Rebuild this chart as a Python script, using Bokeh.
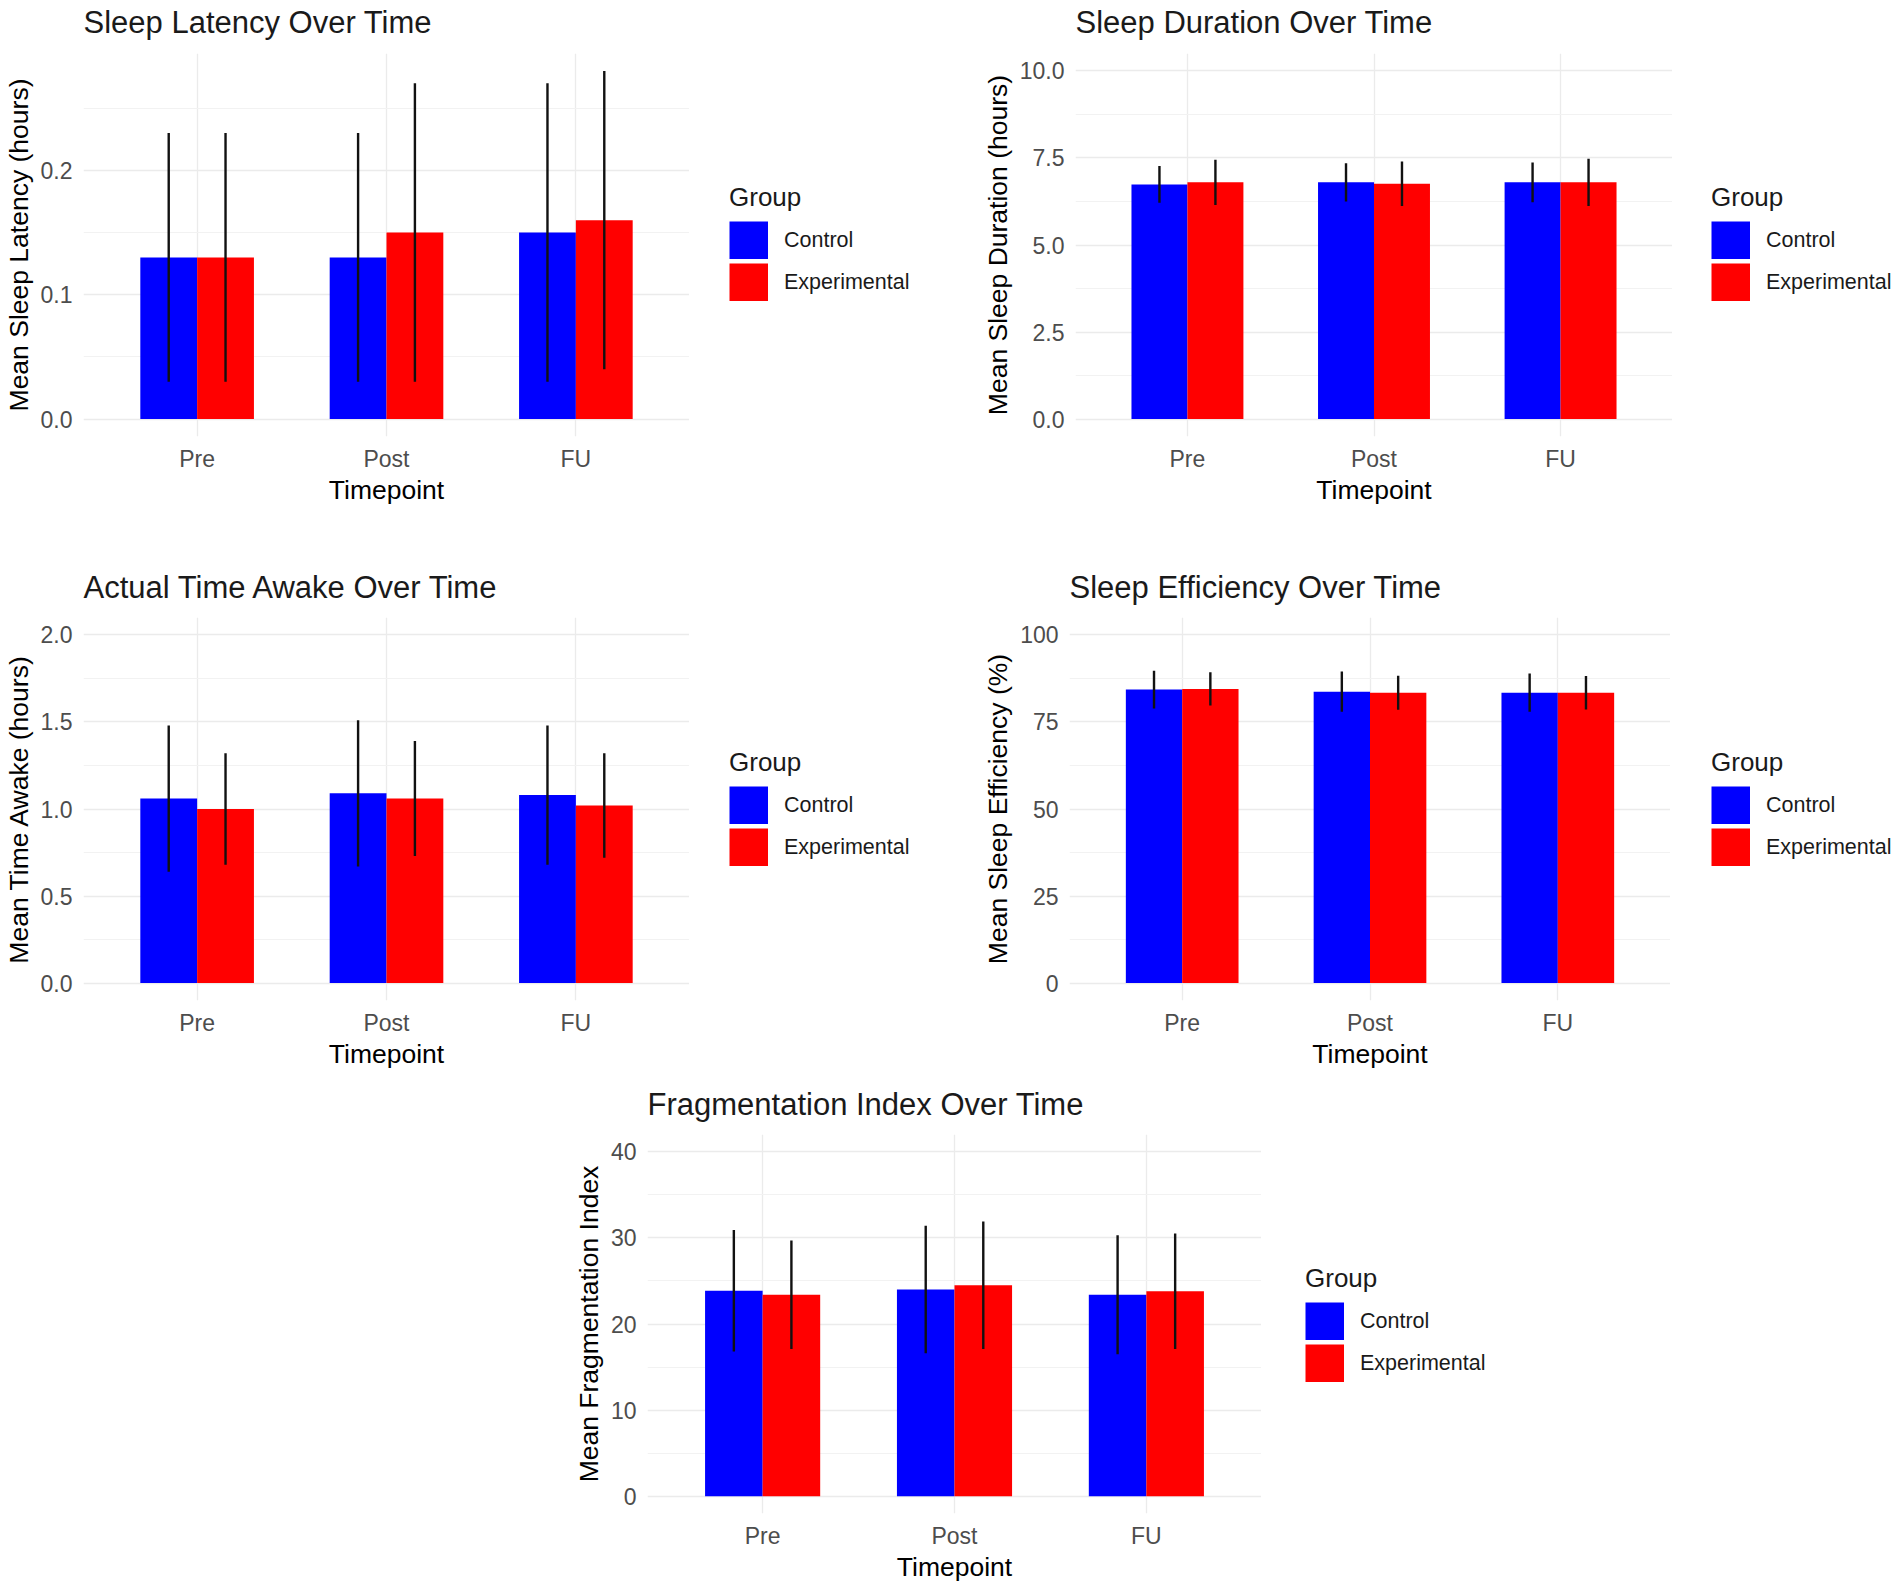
from bokeh.plotting import figure
from bokeh.models import (FactorRange, Range1d, FixedTicker, PrintfTickFormatter,
                          ColumnDataSource, Legend, LegendItem, Spacer)
from bokeh.layouts import row, column
from bokeh.transform import dodge
from bokeh.embed import file_html
from bokeh.resources import INLINE

# ---------------- data ----------------
timepoints = ["Pre", "Post", "FU"]
groups = ["Control", "Experimental"]
group_colors = ["#0000FF", "#FF0000"]

latency_control = [0.13, 0.13, 0.15]
latency_control_sd = [0.10, 0.10, 0.12]
latency_exp = [0.13, 0.15, 0.16]
latency_exp_sd = [0.10, 0.12, 0.12]
latency_ticks = [0.0, 0.1, 0.2]
latency_minor = [0.05, 0.15, 0.25]

duration_control = [6.74, 6.80, 6.80]
duration_control_sd = [0.53, 0.55, 0.57]
duration_exp = [6.80, 6.76, 6.80]
duration_exp_sd = [0.65, 0.64, 0.68]
duration_ticks = [0.0, 2.5, 5.0, 7.5, 10.0]
duration_minor = [1.25, 3.75, 6.25, 8.75]

awake_control = [1.06, 1.09, 1.08]
awake_control_sd = [0.42, 0.42, 0.40]
awake_exp = [1.00, 1.06, 1.02]
awake_exp_sd = [0.32, 0.33, 0.30]
awake_ticks = [0.0, 0.5, 1.0, 1.5, 2.0]
awake_minor = [0.25, 0.75, 1.25, 1.75]

eff_control = [84.3, 83.7, 83.4]
eff_control_sd = [5.4, 5.8, 5.5]
eff_exp = [84.5, 83.4, 83.4]
eff_exp_sd = [4.8, 4.9, 4.8]
eff_ticks = [0, 25, 50, 75, 100]
eff_minor = [12.5, 37.5, 62.5, 87.5]

frag_control = [23.85, 24.0, 23.4]
frag_control_sd = [7.05, 7.4, 6.9]
frag_exp = [23.4, 24.5, 23.8]
frag_exp_sd = [6.3, 7.4, 6.7]
frag_ticks = [0, 10, 20, 30, 40]
frag_minor = [5, 15, 25, 35]

FONT = "Liberation Sans"


def make_panel(title, ylabel, ctrl, ctrl_sd, exp, exp_sd, yrange, ticks, minor,
               fmt, fw, fh, bl, bt, bb, t_standoff):
    src = ColumnDataSource(dict(
        tp=timepoints,
        ctrl=ctrl, exp=exp,
        ctrl_lo=[m - s for m, s in zip(ctrl, ctrl_sd)],
        ctrl_hi=[m + s for m, s in zip(ctrl, ctrl_sd)],
        exp_lo=[m - s for m, s in zip(exp, exp_sd)],
        exp_hi=[m + s for m, s in zip(exp, exp_sd)],
    ))
    p = figure(x_range=FactorRange(factors=timepoints, range_padding=0.2 / 3,
                                   range_padding_units="percent"),
               y_range=Range1d(*yrange),
               width=bl + fw, height=bt + fh + bb,
               min_border_left=bl, min_border_top=bt,
               min_border_right=0, min_border_bottom=bb,
               output_backend="svg", toolbar_location=None, title=title)
    p.outline_line_color = None
    p.background_fill_color = "white"
    p.border_fill_color = "white"

    p.title.text_font = FONT
    p.title.text_font_size = "31px"
    p.title.text_font_style = "normal"
    p.title.text_color = "#1a1a1a"
    p.title.align = "left"
    p.title.standoff = t_standoff

    p.vbar(x=dodge("tp", -0.15, range=p.x_range), top="ctrl", bottom=0,
           width=0.3, source=src, fill_color=group_colors[0], line_color=None)
    p.vbar(x=dodge("tp", 0.15, range=p.x_range), top="exp", bottom=0,
           width=0.3, source=src, fill_color=group_colors[1], line_color=None)
    p.segment(x0=dodge("tp", -0.15, range=p.x_range), y0="ctrl_lo",
              x1=dodge("tp", -0.15, range=p.x_range), y1="ctrl_hi",
              source=src, line_color="#111111", line_width=2.4)
    p.segment(x0=dodge("tp", 0.15, range=p.x_range), y0="exp_lo",
              x1=dodge("tp", 0.15, range=p.x_range), y1="exp_hi",
              source=src, line_color="#111111", line_width=2.4)

    p.yaxis.ticker = FixedTicker(ticks=ticks, minor_ticks=minor)
    p.yaxis.formatter = PrintfTickFormatter(format=fmt)

    for ax in (p.xaxis, p.yaxis):
        ax.axis_line_color = None
        ax.major_tick_line_color = None
        ax.minor_tick_line_color = None
        ax.major_tick_out = 0
        ax.major_tick_in = 0
        ax.major_label_text_font = FONT
        ax.major_label_text_font_size = "23px"
        ax.major_label_text_color = "#4D4D4D"
        ax.axis_label_text_font = FONT
        ax.axis_label_text_font_size = "26.5px"
        ax.axis_label_text_font_style = "normal"
        ax.axis_label_text_color = "#000000"
    p.xaxis.major_label_standoff = 9
    p.xaxis.axis_label_standoff = 0
    p.yaxis.major_label_standoff = 7
    p.yaxis.axis_label_standoff = 4
    p.xaxis.axis_label = "Timepoint"
    p.yaxis.axis_label = ylabel

    p.xgrid.grid_line_color = "#EBEBEB"
    p.xgrid.grid_line_width = 1.3
    p.ygrid.grid_line_color = "#EBEBEB"
    p.ygrid.grid_line_width = 1.3
    p.ygrid.minor_grid_line_color = "#F2F2F2"
    p.ygrid.minor_grid_line_width = 1.0
    return p


def make_legend(width, height):
    lf = figure(width=width, height=height, x_range=Range1d(0, 1), y_range=Range1d(0, 1),
                min_border=0, x_axis_type=None, y_axis_type=None,
                output_backend="svg", toolbar_location=None)
    lf.outline_line_color = None
    lf.background_fill_color = "white"
    lf.border_fill_color = "white"
    keysrc = ColumnDataSource(dict(x=[0], y=[0]))
    keys = [lf.line(x="x", y="y", source=keysrc, line_color=c, line_width=38,
                    line_cap="butt") for c in group_colors]
    legend = Legend(items=[LegendItem(label=g, renderers=[k]) for g, k in zip(groups, keys)],
                    title="Group", location="top_left")
    legend.margin = 0
    legend.padding = 0
    legend.border_line_color = None
    legend.background_fill_alpha = 0
    legend.glyph_width = 39
    legend.glyph_height = 38
    legend.spacing = 4
    legend.label_standoff = 16
    legend.label_text_font = FONT
    legend.label_text_font_size = "21.5px"
    legend.label_text_color = "#1a1a1a"
    legend.title_text_font = FONT
    legend.title_text_font_size = "26px"
    legend.title_text_font_style = "normal"
    legend.title_text_color = "#1a1a1a"
    legend.title_standoff = 8
    lf.add_layout(legend, "center")
    return lf


def legend_block(dx, top, width, total_height):
    return [Spacer(width=dx, height=10),
            column(Spacer(width=width, height=top), make_legend(width, total_height - top))]


# row 1 is shifted up by 12px (negative margin) so its titles can sit high
p1 = make_panel("Sleep Latency Over Time", "Mean Sleep Latency (hours)",
                latency_control, latency_control_sd, latency_exp, latency_exp_sd,
                (-0.014, 0.294), latency_ticks, latency_minor, "%.1f",
                607, 383, 82, 65, 109, 27)
p2 = make_panel("Sleep Duration Over Time", "Mean Sleep Duration (hours)",
                duration_control, duration_control_sd, duration_exp, duration_exp_sd,
                (-0.5, 10.5), duration_ticks, duration_minor, "%.1f",
                597, 383, 115, 65, 109, 27)
p3 = make_panel("Actual Time Awake Over Time", "Mean Time Awake (hours)",
                awake_control, awake_control_sd, awake_exp, awake_exp_sd,
                (-0.1, 2.1), awake_ticks, awake_minor, "%.1f",
                607, 383, 82, 72, 71, 25)
p4 = make_panel("Sleep Efficiency Over Time", "Mean Sleep Efficiency (%)",
                eff_control, eff_control_sd, eff_exp, eff_exp_sd,
                (-5, 105), eff_ticks, eff_minor, "%d",
                601, 383, 109, 72, 71, 25)
p5 = make_panel("Fragmentation Index Over Time", "Mean Fragmentation Index",
                frag_control, frag_control_sd, frag_exp, frag_exp_sd,
                (-2, 42), frag_ticks, frag_minor, "%d",
                614, 380, 147, 63, 70, 25)

row1 = row(p1, *legend_block(40, 194, 231, p1.height),
           p2, *legend_block(39, 194, 185, p2.height))
row2 = row(p3, *legend_block(40, 202, 231, p3.height),
           p4, *legend_block(41, 202, 185, p4.height))
row3 = row(Spacer(width=500, height=10), p5, *legend_block(44, 192, 250, p5.height))

layout = column(row1, row2, row3, margin=(-12, 0, 0, 0))

with open("out.html", "w") as f:
    f.write(file_html(layout, INLINE))
